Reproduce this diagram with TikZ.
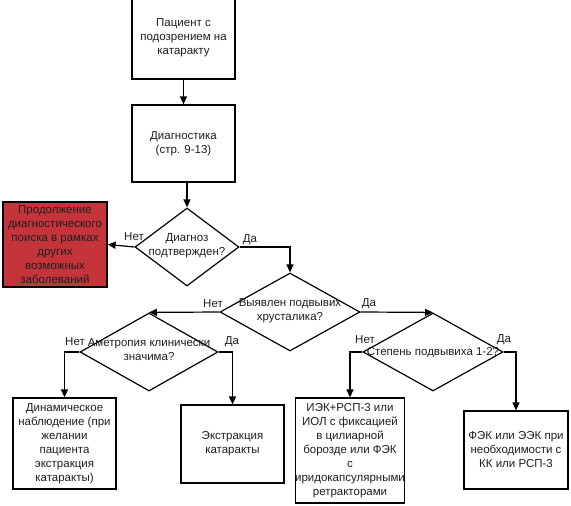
\documentclass[tikz,border=0pt]{standalone}
\usepackage{fontspec}
\setmainfont{Liberation Sans}
\usetikzlibrary{shapes.geometric,arrows.meta}
\definecolor{redbox}{RGB}{196,52,58}
\definecolor{ink}{RGB}{30,30,30}
\tikzset{
  base/.style={font=\fontsize{11.5}{14}\selectfont, text=ink},
  box/.style={base, draw=black, line width=1.2pt, rectangle, inner sep=0pt, align=center},
  dia/.style={draw=black, line width=1.2pt, diamond, inner sep=0pt},
  dtext/.style={base, align=center, inner sep=0pt},
  lbl/.style={base, inner sep=0pt},
  conn/.style={draw=black, line width=1.2pt, -{Triangle[length=8pt,width=7pt]}},
}
\begin{document}
\begin{tikzpicture}[x=1pt,y=-1pt]
\useasboundingbox (0,0) rectangle (571,506);
\clip (0,0) rectangle (571,506);
% boxes
\node[box, minimum width=103pt, minimum height=82pt] (b1) at (183.5,38) {Пациент с\\подозрением на\\катаракту};
\node[box, minimum width=103pt, minimum height=77pt] (b2) at (183.5,143.5) {Диагностика\\(стр. 9-13)};
\node[box, fill=redbox, minimum width=104pt, minimum height=85pt] (red) at (55,244.5) {Продолжение\\диагностического\\поиска в рамках\\других\\возможных\\заболеваний};
\node[box, minimum width=103pt, minimum height=91pt] (bdyn) at (64.5,443.5) {Динамическое\\наблюдение (при\\желании\\пациента\\экстракция\\катаракты)};
\node[box, minimum width=103pt, minimum height=78pt] (bext) at (232.5,444) {Экстракция\\катаракты};
\node[box, minimum width=106pt, minimum height=105pt] (biek) at (350,450.5) {ИЭК+РСП-3 или\\ИОЛ с фиксацией\\в цилиарной\\борозде или ФЭК\\с\\иридокапсулярными\\ретракторами};
\node[box, minimum width=104pt, minimum height=78pt] (bfek) at (516,450) {ФЭК или ЭЭК при\\необходимости с\\КК или РСП-3};
% diamonds
\node[dia, minimum width=104pt, minimum height=78pt] (d1) at (187,247) {};
\node[dtext] at (187,246) {Диагноз\\подтвержден?};
\node[dia, minimum width=140pt, minimum height=78pt] (d2) at (290,312) {};
\node[dtext] at (290,310.5) {Выявлен подвывих\\хрусталика?};
\node[dia, minimum width=138pt, minimum height=78pt] (d3) at (149,352) {};
\node[dtext] at (149,350) {Аметропия клинически\\значима?};
\node[dia, minimum width=140pt, minimum height=78pt] (d4) at (433,352) {};
\node[dtext] at (433,353) {Степень подвывиха 1-2?};
% connectors
\draw[conn] (b1.south) -- (b2.north);
\draw[conn] (d1.north |- b2.south) -- (d1.north);
\draw[conn] (d1.west) -- (red.east);
\draw[conn] (d1.east) -| (d2.north);
\draw[conn] (d2.west) -- (d3.north);
\draw[conn] (d2.east) -- (d4.north);
\draw[conn] (d3.west) -| (bdyn.north);
\draw[conn] (d3.east) -| (bext.north);
\draw[conn] (d4.west) -| (biek.north);
\draw[conn] (d4.east) -| (bfek.north);
% labels
\node[lbl] (l1n) at (134,237) {Нет};
\node[lbl] (l1d) at (250,240) {Да};
\node[lbl] (l2n) at (213,304) {Нет};
\node[lbl] (l2d) at (369,304) {Да};
\node[lbl] (l3n) at (75,342) {Нет};
\node[lbl] (l3d) at (232,342) {Да};
\node[lbl] (l4n) at (365,340) {Нет};
\node[lbl] (l4d) at (504,340) {Да};
\end{tikzpicture}
\end{document}
